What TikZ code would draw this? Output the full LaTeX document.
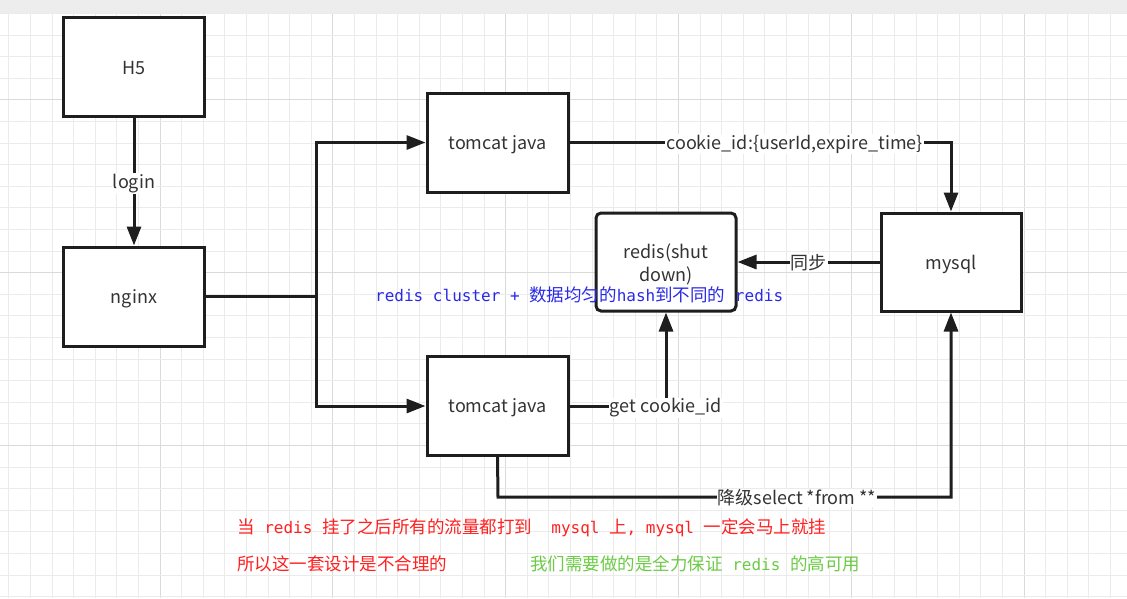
\documentclass[tikz,border=0pt]{standalone}
\usepackage{fontspec}
\setmainfont{Noto Sans CJK SC}
\newfontfamily\zhfont{Noto Sans CJK SC}
\newfontfamily\monofont{DejaVu Sans Mono}
\usetikzlibrary{arrows.meta}
\newcommand{\mo}[1]{{\monofont\fontsize{16}{19}\selectfont #1}}
\newcommand{\zh}[1]{{\zhfont\fontsize{17.5}{20}\selectfont #1}}
\newcommand{\bl}[1]{\raisebox{-2pt}[\height][\depth]{#1}}
\definecolor{txt}{HTML}{333333}
\definecolor{ln}{HTML}{1E1E1E}
\definecolor{gridminor}{HTML}{EBEBEB}
\definecolor{gridmajor}{HTML}{DADADA}
\definecolor{blu}{HTML}{2A2AE6}
\definecolor{rd}{HTML}{FF2020}
\definecolor{grn}{HTML}{6CCB45}
\tikzset{
  box/.style={draw=ln, line width=3pt, fill=white, minimum width=141pt, minimum height=99pt, inner sep=0pt, text=txt, font=\fontsize{18}{23}\selectfont, align=center},
  conn/.style={draw=ln, line width=3pt},
  arr/.style={conn, -{Triangle[length=19pt,width=14pt]}},
  lbl/.style={fill=white, inner sep=1pt, text=txt, font=\fontsize{18}{22}\selectfont},
  note/.style={inner sep=0pt, anchor=west}
}
\begin{document}
\begin{tikzpicture}[x=1pt,y=-1pt]
\useasboundingbox (0,0) rectangle (1127,598);
\fill[white] (0,0) rectangle (1127,598);
% grid
\foreach \i in {0,...,51} {
  \pgfmathsetmacro{\gx}{8.8+21.6*\i}
  \pgfmathtruncatemacro{\mm}{mod(\i,8)}
  \ifnum\mm=7 \draw[gridmajor,line width=0.9pt] (\gx,13) -- (\gx,598);
  \else \draw[gridminor,line width=0.9pt] (\gx,13) -- (\gx,598); \fi
}
\foreach \k in {0,...,27} {
  \pgfmathsetmacro{\gy}{13.5+21.6*\k}
  \pgfmathtruncatemacro{\mm}{mod(\k,8)}
  \ifnum\mm=4 \draw[gridmajor,line width=0.9pt] (0,\gy) -- (1127,\gy);
  \else \draw[gridminor,line width=0.9pt] (0,\gy) -- (1127,\gy); \fi
}
\fill[gray!14] (0,0) rectangle (1127,13);
% boxes
\node[box] (h5) at (134,66.5) {\bl{H5}};
\node[box] (nginx) at (134,296.5) {\bl{nginx}};
\node[box] (tt) at (497.5,142.5) {\bl{tomcat java}};
\node[box] (tb) at (497.5,406) {\bl{tomcat java}};
\node[box, minimum width=140pt, minimum height=98pt, rounded corners=5pt] (redis) at (666,262) {\bl{redis(shut}\\\bl{down)}};
\node[box, minimum width=140pt, minimum height=98pt] (mysql) at (951,262) {\bl{mysql}};
% connectors
\draw[arr] (h5) -- node[lbl,yshift=-2pt]{login} (nginx);
\coordinate (j) at (316,296.5);
\draw[conn] (nginx.east) -- (j);
\draw[arr] (j) |- (tt.west);
\draw[arr] (j) |- (tb.west);
\draw[arr] (tt.east) -| node[lbl,pos=0.295,yshift=-1.5pt]{cookie\_id:\{userId,expire\_time\}} (mysql.north);
\draw[arr] (mysql.west) -- node[lbl,yshift=-1pt]{同步} (redis.east);
\draw[arr] (tb.east) -| node[lbl,pos=0.5,yshift=-2pt]{get cookie\_id} (redis.south);
\coordinate (c1) at (498,497);
\coordinate (c2) at (951,497);
\draw[arr] (tb.south) -- (c1) -- node[lbl,pos=0.66,yshift=-1pt]{降级select *from **} (c2) -- (mysql.south);
% notes
\node[note, text=blu] (n1) at (375,295) {\mo{redis cluster + }\zh{数据均匀的}\mo{hash}\zh{到不同的}\mo{ redis}};
\node[note, text=rd] (n2) at (237,528) {\zh{当}\mo{ redis }\zh{挂了之后所有的流量都打到}\mo{\ \ mysql }\zh{上}\mo{, mysql }\zh{一定会马上就挂}};
\node[note, text=rd] (n3) at (237,564) {\zh{所以这一套设计是不合理的}};
\node[note, text=grn] (n4) at (530,564) {\zh{我们需要做的是全力保证}\mo{ redis }\zh{的高可用}};
\end{tikzpicture}
\end{document}
